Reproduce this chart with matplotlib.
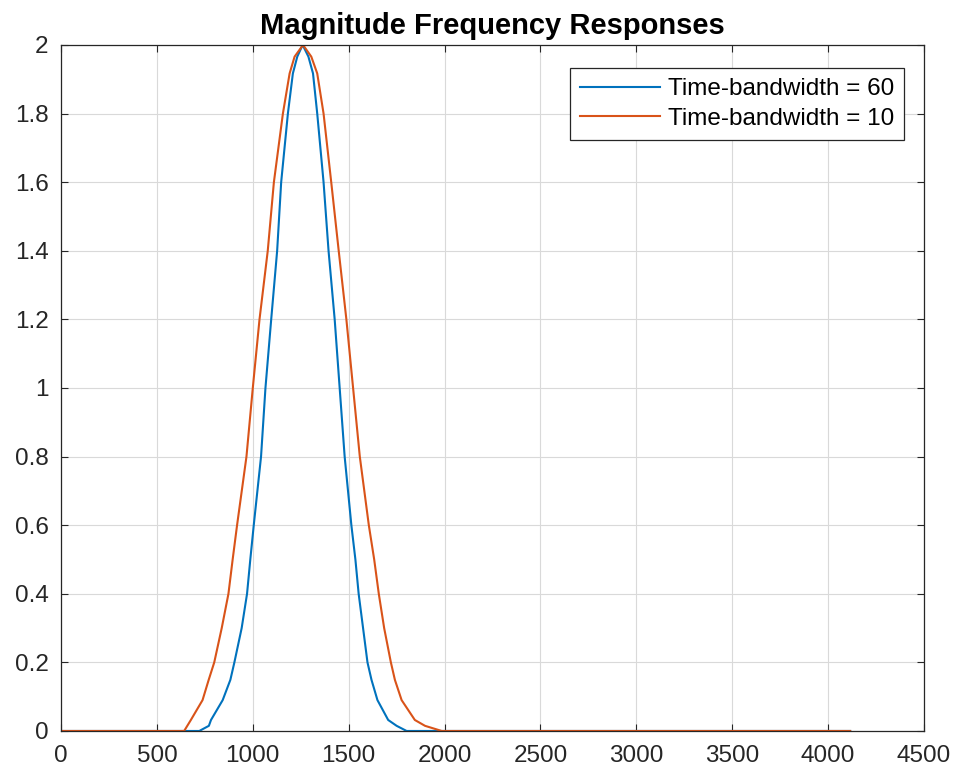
import matplotlib
matplotlib.use("Agg")
import matplotlib.pyplot as plt
from matplotlib.ticker import FuncFormatter

# Data (frequency, magnitude)
freq_tb60 = [0, 721, 771, 782, 843, 883, 904, 942, 970, 987, 1005, 1043, 1066, 1096, 1127,
             1148, 1183, 1209, 1232, 1260, 1290, 1314, 1336, 1369, 1395, 1427, 1453, 1479,
             1514, 1535, 1552, 1575, 1598, 1619, 1650, 1706, 1750, 1802, 4115]
mag_tb60 = [0, 0, 0.015, 0.032, 0.09, 0.149, 0.2, 0.3, 0.4, 0.5, 0.6, 0.8, 1.0, 1.2, 1.4,
            1.6, 1.8, 1.917, 1.966, 2.0, 1.966, 1.917, 1.8, 1.6, 1.4, 1.2, 1.0, 0.8,
            0.6, 0.5, 0.4, 0.3, 0.2, 0.149, 0.09, 0.032, 0.015, 0, 0]

freq_tb10 = [0, 642, 677, 738, 770, 799, 838, 873, 895, 918, 967, 1000, 1035, 1078, 1110,
             1157, 1192, 1218, 1262, 1305, 1336, 1369, 1409, 1448, 1488, 1523, 1558, 1605,
             1633, 1657, 1685, 1720, 1741, 1776, 1845, 1898, 1985, 4115]
mag_tb10 = [0, 0, 0.032, 0.09, 0.149, 0.2, 0.3, 0.4, 0.5, 0.6, 0.8, 1.0, 1.2, 1.4, 1.6,
            1.8, 1.917, 1.966, 2.0, 1.966, 1.917, 1.8, 1.6, 1.4, 1.2, 1.0, 0.8, 0.6,
            0.5, 0.4, 0.3, 0.2, 0.149, 0.09, 0.032, 0.015, 0, 0]

labels = ["Time-bandwidth = 60", "Time-bandwidth = 10"]
x_ticks = [0, 500, 1000, 1500, 2000, 2500, 3000, 3500, 4000, 4500]
y_ticks = [0, 0.2, 0.4, 0.6, 0.8, 1.0, 1.2, 1.4, 1.6, 1.8, 2.0]

plt.rcParams['font.family'] = ['Liberation Sans', 'DejaVu Sans']

fig = plt.figure(figsize=(9.58, 7.74), dpi=100)
ax = fig.add_axes([0.0637, 0.0556, 0.9008, 0.8863])

ax.plot(freq_tb60, mag_tb60, color='#0072BD', lw=1.5, label=labels[0])
ax.plot(freq_tb10, mag_tb10, color='#D95319', lw=1.5, label=labels[1])

ax.set_xlim(0, 4500)
ax.set_ylim(0, 2)
ax.set_xticks(x_ticks)
ax.set_yticks(y_ticks)
ax.yaxis.set_major_formatter(FuncFormatter(lambda v, p: f"{v:g}"))
ax.grid(True, color='#d9d9d9', lw=0.8)
ax.set_axisbelow(True)
ax.tick_params(direction='in', top=True, right=True, length=5, width=0.8,
               colors='#262626', labelsize=17.5)
ax.tick_params(axis='x', pad=10)
ax.tick_params(axis='y', pad=9)
for s in ax.spines.values():
    s.set_color('#262626')
    s.set_linewidth(0.9)

ax.set_title("Magnitude Frequency Responses", fontsize=21, fontweight='bold', pad=8)

leg = ax.legend(loc='upper right', bbox_to_anchor=(0.9768, 0.9665), fontsize=17.5,
                handlelength=3.3, frameon=True, fancybox=False, framealpha=1,
                borderpad=0.42, labelspacing=0.32, handletextpad=0.3, borderaxespad=0)
leg.get_frame().set_edgecolor('#262626')
leg.get_frame().set_linewidth(0.9)

fig.savefig("out.png", dpi=100)
